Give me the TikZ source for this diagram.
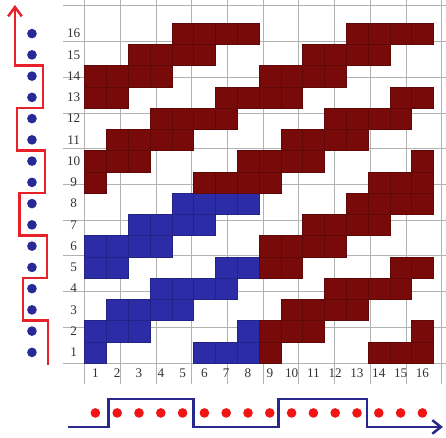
\documentclass[tikz,border=0pt]{standalone}
\usepackage{xcolor}
\usepackage{fontspec}
\setmainfont{Liberation Serif}
\usepackage{tikz}
\usetikzlibrary{arrows.meta}

\definecolor{weftblue}{RGB}{44,44,166}
\definecolor{warpred}{RGB}{120,10,10}
\definecolor{stairred}{RGB}{232,32,40}
\definecolor{lineblue}{RGB}{40,40,140}
\definecolor{dotred}{RGB}{240,20,20}
\definecolor{dotblue}{RGB}{40,40,150}

\begin{document}
\begin{tikzpicture}[
    x=0.6104cm, y=0.595cm,
    gridline/.style={draw=gray!60, line width=0.6pt},
    cell/.style={line width=0.3pt},
    lab/.style={text=black!80, font=\fontsize{10.5}{12}\selectfont, inner sep=0pt},
    bdot/.style={circle, fill=dotblue, inner sep=0pt, minimum size=2.7mm},
    rdot/.style={circle, fill=dotred, inner sep=0pt, minimum size=2.7mm},
    stair/.style={draw=stairred, line width=2pt, line join=miter},
    pulse/.style={draw=lineblue, line width=2pt, line join=miter}
  ]
    \useasboundingbox (-3.876,-3.529) rectangle (16.583,17.082);
    \clip (-3.876,-3.529) rectangle (16.583,17.082);

    % weave grid
    \draw[gridline] (-1,-1) grid (17,17.2);

    % 8x8 repeat, tiled 2x2
    \foreach \dx/\dy/\col in {0/0/weftblue, 8/0/warpred, 0/8/warpred, 8/8/warpred} {
      \foreach \r/\cols in {1/{1,6,7,8}, 2/{1,2,3,8}, 3/{2,3,4,5}, 4/{4,5,6,7},
                           5/{1,2,7,8}, 6/{1,2,3,4}, 7/{3,4,5,6}, 8/{5,6,7,8}} {
        \foreach \c in \cols
          \filldraw[cell, fill=\col, draw=\col!80!black] (\c+\dx-1,\r+\dy-1) rectangle ++(1,1);
      }
    }

    % row and column numbers
    \foreach \n in {1,...,16} {
      \node[lab] (row\n) at (-0.5,\n-0.5) {\n};
      \node[lab] (col\n) at (\n-0.5,-0.5) {\n};
    }

    % dots
    \foreach \n in {1,...,16} {
      \node[bdot] (ldot\n) at (-2.41,\n-0.5) {};
      \node[rdot] (bdot\n) at (\n-0.5,-2.35) {};
    }

    % staircase on the left
    \draw[stair, -{Straight Barb[length=2.6mm, width=3.8mm]}]
      (-1.67,-0.1) -- (-1.67,2) -- (-2.82,2) -- (-2.82,4) -- (-1.72,4) -- (-1.72,6)
      -- (-2.98,6) -- (-2.98,8) -- (-1.81,8) -- (-1.81,10) -- (-3.10,10) -- (-3.10,12)
      -- (-1.90,12) -- (-1.90,14) -- (-3.19,14) -- (-3.19,16.85);

    % pulse line at the bottom
    \draw[pulse, -{Straight Barb[length=2.4mm, width=3.8mm]}]
      (-0.76,-3.01) -- (1.1,-3.01) -- (1.1,-1.69) -- (5,-1.69) -- (5,-3.01)
      -- (8.9,-3.01) -- (8.9,-1.69) -- (12.95,-1.69) -- (12.95,-3.01) -- (16.44,-3.01);
  \end{tikzpicture}
\end{document}
